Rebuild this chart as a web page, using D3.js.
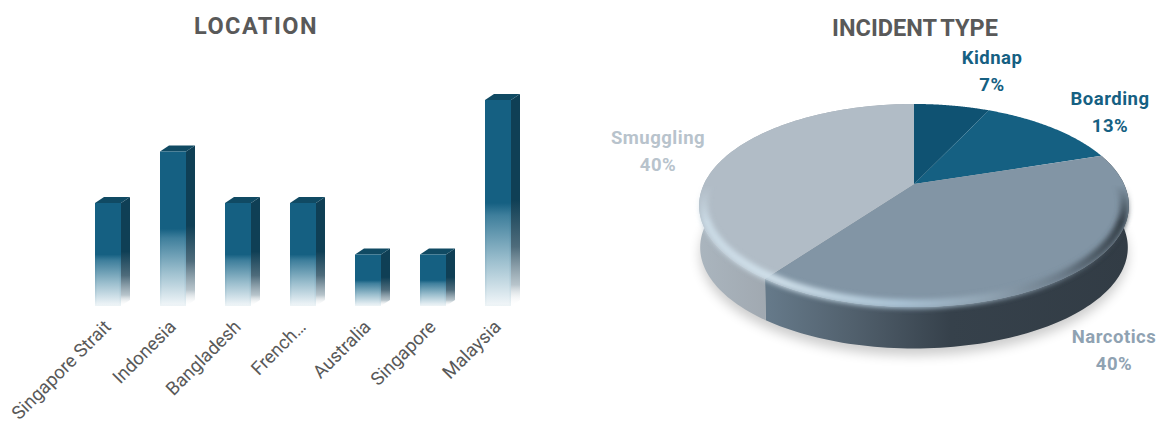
<!DOCTYPE html>
<html>
<head>
<meta charset="utf-8">
<script src="https://cdn.jsdelivr.net/npm/d3@7/dist/d3.min.js"></script>
<style>
  html, body { margin: 0; padding: 0; background: #fff; }
  svg { display: block; }
  text { font-family: Roboto, "Noto Sans", sans-serif; }
</style>
</head>
<body>
<svg id="chart" width="1157" height="423"></svg>
<script>
// Location counts
const locations = ["Singapore Strait", "Indonesia", "Bangladesh", "French…", "Australia", "Singapore", "Malaysia"];
const locationCounts = [2, 3, 2, 2, 1, 1, 4];

// Incident type shares (percent)
const incidentTypes = ["Kidnap", "Boarding", "Narcotics", "Smuggling"];
const incidentShares = [7, 13, 40, 40];
const incidentColors = ["#0f5272", "#156082", "#8295a5", "#b1bcc6"];
const labelColors = ["#156082", "#156082", "#8fa2b2", "#b8c3cc"];
const labelAnchors = [[992, 64], [1110, 105], [1114, 343], [658, 144]];

const svg = d3.select("#chart");
const defs = svg.append("defs");

// ---------- Column chart ----------
const x = d3.scaleBand().domain(locations).range([75.5, 530.5]).paddingInner(0.6).paddingOuter(0.3);
const y = d3.scaleLinear().domain([0, 4]).range([306, 100]);
const depthX = 9, depthY = 6;

function fadeGradient(id, stops) {
  const g = defs.append("linearGradient").attr("id", id)
    .attr("x1", 0).attr("y1", 0).attr("x2", 0).attr("y2", 1);
  stops.forEach(([o, c, a]) => g.append("stop").attr("offset", o).attr("stop-color", c).attr("stop-opacity", a));
}
fadeGradient("barFront", [[0, "#156082", 1], [0.5, "#156082", 1], [0.56, "#3f7f9c", 1], [0.78, "#9cbfce", 1], [0.96, "#e3edf2", 1], [1, "#f3f7f9", 1]]);
fadeGradient("barSide", [[0, "#0f3f55", 1], [0.5, "#0f3f55", 1], [0.72, "#3f5f70", 0.92], [0.9, "#a0b1ba", 0.75], [1, "#ffffff", 0]]);
fadeGradient("barEdge", [[0, "#156082", 0], [0.5, "#156082", 0], [0.62, "#4f8aa5", 0.8], [0.9, "#b9d1dc", 0.8], [1, "#e9f1f4", 0.6]]);

const bars = svg.append("g").selectAll("g").data(locations).join("g");
bars.each(function (name, i) {
  const g = d3.select(this);
  const x0 = x(name), x1 = x0 + x.bandwidth();
  const top = y(locationCounts[i]), base = y(0);
  g.append("path")
    .attr("d", `M${x1},${top}L${x1 + depthX},${top - depthY}L${x1 + depthX},${base - depthY}L${x1},${base}Z`)
    .attr("fill", "url(#barSide)");
  g.append("path")
    .attr("d", `M${x0},${top}L${x0 + depthX},${top - depthY}L${x1 + depthX},${top - depthY}L${x1},${top}Z`)
    .attr("fill", "#104a63");
  g.append("rect")
    .attr("x", x0).attr("y", top).attr("width", x.bandwidth()).attr("height", base - top)
    .attr("fill", "url(#barFront)");
  g.append("rect")
    .attr("x", x0 + 0.75).attr("y", top + 0.75).attr("width", x.bandwidth() - 1.5).attr("height", base - top - 1.5)
    .attr("fill", "none").attr("stroke", "url(#barEdge)").attr("stroke-width", 1.5);
});

svg.append("g").selectAll("text").data(locations).join("text")
  .attr("transform", d => `translate(${x(d) + x.bandwidth() / 2 + 4},328) rotate(-45)`)
  .attr("text-anchor", "end")
  .attr("font-size", 18.5)
  .attr("fill", "#595959")
  .text(d => d);

// ---------- Tilted pie ----------
// Perspective mapping of the pie's disc: nearer edge is drawn larger.
const pieCx = 914, pieCy = 184, persp = -0.212, spanX = 210, spanY = 97;
function project(theta, r = 1, drop = 0) {
  const u = r * Math.sin(theta), v = -r * Math.cos(theta);
  const w = 1 + persp * v, s = 1 - 0.005 * drop / 42;
  return [pieCx + spanX * s * u / w, pieCy + spanY * s * v / w + drop];
}
const thickness = 42;
const samples = (a, b) => d3.range(0, 101).map(k => a + (b - a) * k / 100);
const curve = d3.line();
const sectors = d3.pie().sort(null).startAngle(0).endAngle(2 * Math.PI)(incidentShares);

function sectorPath(d) {
  return curve([[pieCx, pieCy], ...samples(d.startAngle, d.endAngle).map(t => project(t))]) + "Z";
}
function wallPath(d) {
  const upper = samples(d.startAngle, d.endAngle).map(t => project(t));
  const lower = samples(d.endAngle, d.startAngle).map(t => project(t, 1, thickness));
  return curve([...upper, ...lower]) + "Z";
}
function hGradient(id, stops) {
  const g = defs.append("linearGradient").attr("id", id).attr("gradientUnits", "userSpaceOnUse")
    .attr("x1", 699).attr("y1", 0).attr("x2", 1130).attr("y2", 0);
  stops.forEach(([px, c]) => g.append("stop").attr("offset", (px - 699) / 431).attr("stop-color", c));
}
hGradient("wallNarcotics", [[770, "#657989"], [850, "#52616e"], [950, "#36414b"], [1130, "#323c45"]]);
hGradient("wallSmuggling", [[699, "#aab5be"], [770, "#a0a8b0"]]);
hGradient("rimLight", [[699, "#c9d9e4"], [770, "#cfdfe9"], [900, "#a9c2d4"], [990, "#8fa2b1"], [1060, "#6c7c8a"], [1130, "#2f3941"]]);

const soft = (id, dev) => defs.append("filter").attr("id", id)
  .attr("x", "-20%").attr("y", "-20%").attr("width", "140%").attr("height", "140%")
  .append("feGaussianBlur").attr("stdDeviation", dev);
soft("shadowBlur", 6);
soft("rimBlur", 2.6);

// The rim bevel fades out towards the back of the disc
const rimFade = defs.append("linearGradient").attr("id", "rimFade").attr("gradientUnits", "userSpaceOnUse")
  .attr("x1", 0).attr("y1", 185).attr("x2", 0).attr("y2", 222);
rimFade.append("stop").attr("offset", 0).attr("stop-color", "#000");
rimFade.append("stop").attr("offset", 1).attr("stop-color", "#fff");
defs.append("mask").attr("id", "rimMask").attr("maskUnits", "userSpaceOnUse")
  .attr("x", 680).attr("y", 90).attr("width", 470).attr("height", 280)
  .append("rect").attr("x", 680).attr("y", 90).attr("width", 470).attr("height", 280).attr("fill", "url(#rimFade)");

const pie = svg.append("g");

// Ground shadow
pie.append("path")
  .attr("d", curve(samples(0, 2 * Math.PI).map(t => project(t, 1, thickness + 7))) + "Z")
  .attr("fill", "#000").attr("opacity", 0.2).attr("filter", "url(#shadowBlur)");

// Outer wall of the two front sectors
const wallFill = { 2: "url(#wallNarcotics)", 3: "url(#wallSmuggling)" };
pie.append("g").selectAll("path").data(sectors.filter(d => wallFill[d.index])).join("path")
  .attr("d", wallPath)
  .attr("fill", d => wallFill[d.index]);

// Top faces
pie.append("g").selectAll("path").data(sectors).join("path")
  .attr("d", sectorPath)
  .attr("fill", d => incidentColors[d.index]);

// Bevel along the front rim
pie.append("g").attr("mask", "url(#rimMask)").append("path")
  .attr("d", curve(samples(1.3, 5.0).map(t => project(t, 0.98))))
  .attr("fill", "none")
  .attr("stroke", "url(#rimLight)")
  .attr("stroke-width", 9)
  .attr("filter", "url(#rimBlur)");

// Sector labels
const labels = svg.append("g").attr("text-anchor", "middle").attr("font-weight", 700).attr("font-size", 18.5)
  .attr("letter-spacing", 0.5);
incidentTypes.forEach((name, i) => {
  const [lx, ly] = labelAnchors[i];
  labels.append("text").attr("x", lx).attr("y", ly).attr("fill", labelColors[i]).text(name);
  labels.append("text").attr("x", lx).attr("y", ly + 27).attr("fill", labelColors[i]).text(incidentShares[i] + "%");
});

// Chart titles
svg.append("text").attr("x", 256).attr("y", 34).attr("text-anchor", "middle")
  .attr("font-size", 23.5).attr("font-weight", 700).attr("fill", "#595959").attr("letter-spacing", 1.5)
  .text("LOCATION");
svg.append("text").attr("x", 915).attr("y", 36).attr("text-anchor", "middle")
  .attr("font-size", 23.5).attr("font-weight", 700).attr("fill", "#595959").attr("word-spacing", -1.5)
  .text("INCIDENT TYPE");
</script>
</body>
</html>
